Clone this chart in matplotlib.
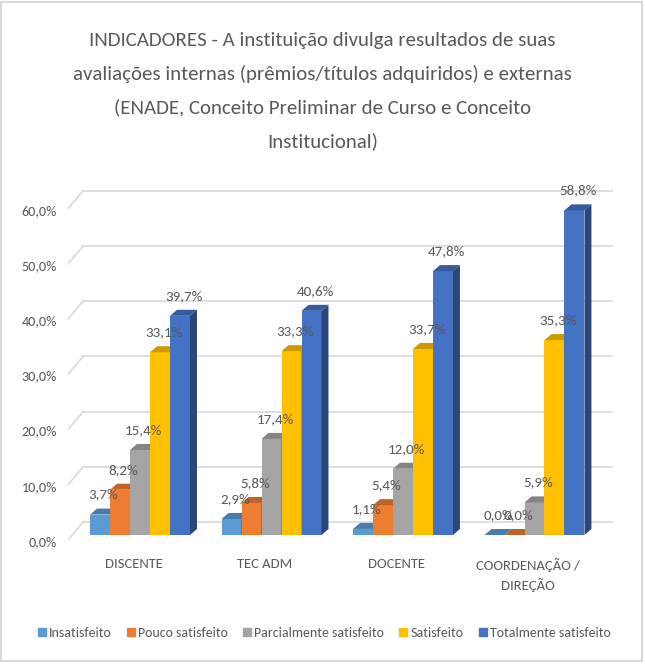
import numpy as np
import matplotlib
matplotlib.use("Agg")
import matplotlib.pyplot as plt
from matplotlib.patches import Polygon, Rectangle
from matplotlib.lines import Line2D
from matplotlib.colors import to_rgb

plt.rcParams['font.family'] = ['Carlito', 'Liberation Sans Narrow', 'DejaVu Sans']

# data
categories = ["DISCENTE", "TEC ADM", "DOCENTE", "COORDENAÇÃO /\nDIREÇÃO"]
series = ["Insatisfeito", "Pouco satisfeito", "Parcialmente satisfeito",
          "Satisfeito", "Totalmente satisfeito"]
values = [
    [3.7, 2.9, 1.1, 0.0],
    [8.2, 5.8, 5.4, 0.0],
    [15.4, 17.4, 12.0, 5.9],
    [33.1, 33.3, 33.7, 35.3],
    [39.7, 40.6, 47.8, 58.8],
]
colors = ["#5B9BD5", "#ED7D31", "#A5A5A5", "#FFC000", "#4472C4"]
yticks = [0, 10, 20, 30, 40, 50, 60]

txt = "#595959"
grid = "#D9D9D9"

# fake 3d geometry (category units / percent units)
bw = 0.152          # bar width
ddx, ddy = 0.053, 1.09   # bar depth
wall_dx, wall_dy = 0.115, 2.36   # back wall offset from front-left floor corner

def shade(c, f):
    r, g, b = to_rgb(c)
    return (r * f, g * f, b * f)

fig = plt.figure(figsize=(6.45, 6.64), dpi=100)
fig.patches.append(Rectangle((0.002, 0.004), 0.994, 0.993, transform=fig.transFigure,
                             fill=False, edgecolor=grid, lw=1.5))
ax = fig.add_axes([68 / 645, 1 - 545 / 664, 545 / 645, 365 / 664])
xmin, xmax = -0.548, 3.597
ax.set_xlim(xmin, xmax)
ax.set_ylim(-1.81, 64.3)
ax.axis("off")

# gridlines on back wall + slanted stubs on the left
for t in yticks:
    ax.plot([xmin + wall_dx, xmax], [t + wall_dy, t + wall_dy], color=grid, lw=1.2, zorder=0)
    ax.plot([xmin, xmin + wall_dx], [t - 0.9, t + wall_dy], color=grid, lw=1.2, zorder=0)
    ax.annotate(f"{t:.1f}%".replace(".", ","), (xmin, t), xytext=(-11, -7),
                textcoords="offset pixels", ha="right", va="center",
                fontsize=10.2, color=txt, annotation_clip=False)

x = np.arange(len(categories))
z = 1
for j, (name, vals, c) in enumerate(zip(series, values, colors)):
    for i, v in enumerate(vals):
        left = x[i] + (j - 2.5) * bw
        right = left + bw
        ax.add_patch(Rectangle((left, 0), bw, v, facecolor=c, edgecolor="none", zorder=z + i * 10 + j))
        ax.add_patch(Polygon([(left, v), (right, v), (right + ddx, v + ddy), (left + ddx, v + ddy)],
                             closed=True, facecolor=shade(c, 0.8), edgecolor="none",
                             zorder=z + i * 10 + j))
        ax.add_patch(Polygon([(right, 0), (right + ddx, ddy), (right + ddx, v + ddy), (right, v)],
                             closed=True, facecolor=shade(c, 0.62), edgecolor="none",
                             zorder=z + i * 10 + j))
        ax.annotate(f"{v:.1f}%".replace(".", ","), (left + bw / 2 + ddx / 2, v + ddy),
                    xytext=(0, 14), textcoords="offset pixels", ha="center", va="center",
                    fontsize=10.8, color=txt, zorder=100)

for i, cat in enumerate(categories):
    ax.text(x[i] - 0.05, -4.1, cat, ha="center", va="top", fontsize=10.5,
            color=txt, linespacing=1.55)

fig.text(0.5, 1 - 91 / 664, "INDICADORES - A instituição divulga resultados de suas\n"
         "avaliações internas (prêmios/títulos adquiridos) e externas\n"
         "(ENADE, Conceito Preliminar de Curso e Conceito\nInstitucional)",
         ha="center", va="center", fontsize=15, color=txt, linespacing=2.05)

handles = [Line2D([], [], marker="s", linestyle="none", markersize=5.5, color=c) for c in colors]
leg = fig.legend(handles, series, loc="center", bbox_to_anchor=(0.5, 1 - 633 / 664), ncol=5,
                 frameon=False, fontsize=10, handletextpad=0.0, columnspacing=0.9,
                 handlelength=1.0)
for t in leg.get_texts():
    t.set_color(txt)

fig.savefig("out.png", dpi=100, facecolor="white")
